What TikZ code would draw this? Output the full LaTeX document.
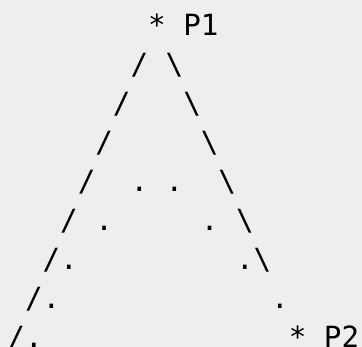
\documentclass[tikz,border=0pt]{standalone}
\usepackage{fontspec}
\newfontfamily\asciifont{DejaVu Sans Mono}
\newcommand\bsl{\symbol{92}}
\definecolor{paper}{HTML}{EEEEEE}

\begin{document}
\begin{tikzpicture}[
        x=1pt, y=1pt,
        every node/.style={font=\asciifont\fontsize{29.2}{39}\selectfont, anchor=base west, inner sep=0pt, outer sep=0pt}
    ]
        \fill[paper] (0,0) rectangle (362,-347);
        \useasboundingbox (0,0) rectangle (362,-347);

        \node (top) at (7.5,-35.5) {~~~~~~~~*~P1};
        \node (row1) at (7.5,-74.5) {~~~~~~~/~\bsl};
        \node (row2) at (7.5,-113.5) {~~~~~~/~~~\bsl};
        \node (row3) at (7.5,-152.5) {~~~~~/~~~~~\bsl};
        \node (row4) at (7.5,-191.5) {~~~~/~~.~.~~\bsl};
        \node (row5) at (7.5,-230.5) {~~~/~.~~~~~.~\bsl};
        \node (row6) at (7.5,-269.5) {~~/.~~~~~~~~~.\bsl};
        \node (row7) at (7.5,-308.5) {~/.~~~~~~~~~~~~.};
        \node (bottom) at (7.5,-347.5) {/.~~~~~~~~~~~~~~*~P2};
    \end{tikzpicture}
\end{document}
